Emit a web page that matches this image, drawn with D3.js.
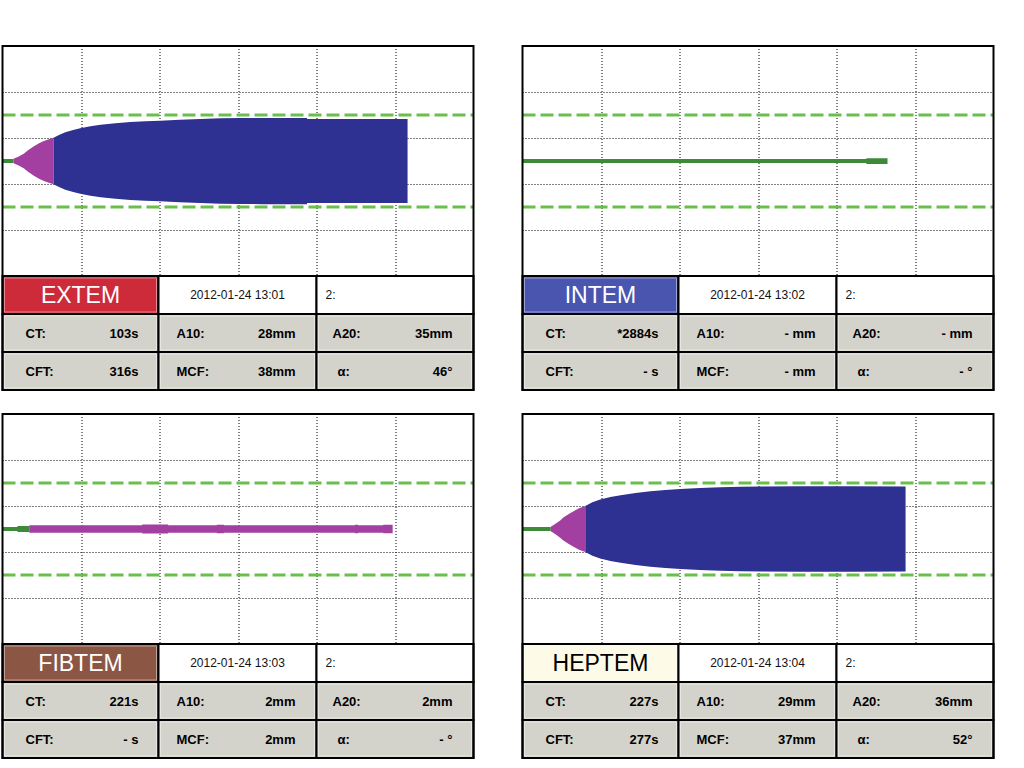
<!DOCTYPE html>
<html>
<head>
<meta charset="utf-8">
<script src="https://cdn.jsdelivr.net/npm/d3@7"></script>
<style>
  body { margin: 0; background: #fff; }
  svg { display: block; font-family: "Liberation Sans", Arial, sans-serif; }
</style>
</head>
<body>
<div id="chart"></div>
<script>
// test names + result table
var tests = ["EXTEM", "INTEM", "FIBTEM", "HEPTEM"];
var runDates = ["2012-01-24 13:01", "2012-01-24 13:02", "2012-01-24 13:03", "2012-01-24 13:04"];
var channels = ["2:", "2:", "2:", "2:"];
var ctVals = ["103s", "*2884s", "221s", "227s"];
var cftVals = ["316s", "- s", "- s", "277s"];
var a10Vals = ["28mm", "- mm", "2mm", "29mm"];
var a20Vals = ["35mm", "- mm", "2mm", "36mm"];
var mcfVals = ["38mm", "- mm", "2mm", "37mm"];
var alphaVals = ["46°", "- °", "- °", "52°"];

// grid (minutes, mm)
var timeGrid = [10, 20, 30, 40, 50];
var ampGrid = [-30, -10, 10, 30];
var refLines = [-20, 20];

// traces: [minutes, amplitude mm]
var extemTrace = [[0, 1.7], [1.4, 1.7], [1.4, 2], [2.0, 3.8], [2.7, 6.4], [3.3, 9.5], [4.0, 12.8], [4.6, 15.2],
  [5.2, 17.2], [5.9, 18.9], [6.5, 20.3], [7.2, 22.6], [8.0, 25], [9.0, 27], [9.9, 28.4], [11.2, 30.2],
  [12.5, 31.5], [14.4, 32.9], [16.3, 33.9], [18.2, 34.6], [20.1, 35.1], [22.6, 35.9], [25.2, 36.6],
  [27.8, 37.1], [30.3, 37.4], [33, 37.5], [35.4, 37.5], [38.8, 37.5], [38.8, 36.5], [45, 36.5], [51.6, 36.5]];
var intemTrace = [[0, 1.7], [43.8, 1.7], [43.8, 2.5], [46.5, 2.5]];
var fibtemTrace = [[0, 1.8], [1.9, 1.8], [1.9, 2.6], [3.4, 2.6], [3.4, 3.2], [17.8, 3.2], [17.8, 3.9], [21.1, 3.9],
  [21.1, 3.2], [27.3, 3.2], [27.3, 3.6], [28.2, 3.6], [28.2, 3.2], [44.9, 3.2], [44.9, 3.6], [45.3, 3.6],
  [45.3, 3.2], [48.5, 3.2], [48.5, 3.7], [49.7, 3.7]];
var heptemTrace = [[0, 1.7], [3.6, 1.7], [3.6, 2], [4.2, 4.5], [4.8, 7.5], [5.2, 10], [5.9, 13], [6.5, 15.5],
  [7.2, 18], [8.0, 20], [8.9, 23.2], [9.9, 25.6], [11.2, 27.8], [12.5, 29.4], [14.4, 31.4], [16.3, 32.8],
  [18.2, 33.9], [20.1, 34.7], [22.6, 35.6], [25.2, 36.2], [27.8, 36.7], [30.3, 37], [35.4, 37.2],
  [41.8, 37.2], [48.8, 37]];
var traces = [extemTrace, intemTrace, fibtemTrace, heptemTrace];

// phase starts: [clotting start, 20mm reached] in minutes
var phaseStarts = [[1.4, 6.5], [60, 60], [3.4, 60], [3.6, 8.0]];

// styles
var headerFill = ["#cd2a3a", "#4a55b0", "#8b5643", "#fdfbe7"];
var headerText = ["#fff", "#fff", "#fff", "#000"];
var phaseColors = ["#3d8a38", "#a43fa2", "#2e3192"];
var cellGray = "#d4d3cb";

var W = 1024, H = 768;
var panelW = 471, chartH = 230;
var panelPos = [[2.5, 46], [522.5, 46], [2.5, 414], [522.5, 414]];
var colEdges = [0, 156, 314, 471];
var rowEdges = [230, 268, 306, 344];

var svg = d3.select("#chart").append("svg")
  .attr("width", W)
  .attr("height", H);

svg.append("rect").attr("width", W).attr("height", H).attr("fill", "#fff");

var x = d3.scaleLinear().domain([0, 60]).range([0, panelW]);
var y = d3.scaleLinear().domain([-50, 50]).range([chartH, 0]);

var area = d3.area()
  .x(function(d) { return x(d[0]); })
  .y0(function(d) { return y(-d[1] / 2); })
  .y1(function(d) { return y(d[1] / 2); });

tests.forEach(function(name, i) {
  var g = svg.append("g")
    .attr("transform", "translate(" + panelPos[i][0] + "," + panelPos[i][1] + ")");

  // dotted grid
  g.selectAll(".vgrid")
    .data(timeGrid)
    .enter().append("line")
    .attr("x1", function(d) { return Math.round(x(d)) + 0.5; })
    .attr("x2", function(d) { return Math.round(x(d)) + 0.5; })
    .attr("y1", 0).attr("y2", chartH)
    .attr("stroke", "#000").attr("stroke-dasharray", "1,2");

  g.selectAll(".hgrid")
    .data(ampGrid)
    .enter().append("line")
    .attr("x1", 0).attr("x2", panelW)
    .attr("y1", function(d) { return Math.round(y(d)) + 0.5; })
    .attr("y2", function(d) { return Math.round(y(d)) + 0.5; })
    .attr("stroke", "#000").attr("stroke-dasharray", "1,2");

  // reference lines
  g.selectAll(".ref")
    .data(refLines)
    .enter().append("line")
    .attr("x1", 0).attr("x2", panelW)
    .attr("y1", function(d) { return y(d); })
    .attr("y2", function(d) { return y(d); })
    .attr("stroke", "#6abf4b").attr("stroke-width", 3)
    .attr("stroke-dasharray", "13,5");

  // trace, coloured by phase
  var bounds = [0, phaseStarts[i][0], phaseStarts[i][1], 60];
  for (var p = 0; p < 3; p++) {
    if (bounds[p + 1] <= bounds[p]) continue;
    var id = "clip" + i + "_" + p;
    g.append("clipPath").attr("id", id)
      .append("rect")
      .attr("x", x(bounds[p])).attr("y", 0)
      .attr("width", x(bounds[p + 1]) - x(bounds[p]))
      .attr("height", chartH);
    g.append("path")
      .datum(traces[i])
      .attr("clip-path", "url(#" + id + ")")
      .attr("d", area)
      .attr("fill", phaseColors[p]);
  }

  // table cells
  var cells = [];
  for (var r = 0; r < 3; r++) {
    for (var c = 0; c < 3; c++) {
      var fill = "#fff";
      if (r == 0 && c == 0) fill = headerFill[i];
      else if (r > 0) fill = cellGray;
      cells.push({ r: r, c: c, fill: fill });
    }
  }
  g.selectAll(".cell")
    .data(cells)
    .enter().append("rect")
    .attr("x", function(d) { return colEdges[d.c]; })
    .attr("y", function(d) { return rowEdges[d.r]; })
    .attr("width", function(d) { return colEdges[d.c + 1] - colEdges[d.c]; })
    .attr("height", function(d) { return rowEdges[d.r + 1] - rowEdges[d.r]; })
    .attr("fill", function(d) { return d.fill; })
    .attr("stroke", "#000")
    .attr("stroke-width", 2);

  // faint inner highlight on filled cells
  g.selectAll(".hl")
    .data(cells.filter(function(d) { return d.fill != "#fff"; }))
    .enter().append("rect")
    .attr("x", function(d) { return colEdges[d.c] + 2; })
    .attr("y", function(d) { return rowEdges[d.r] + 2; })
    .attr("width", function(d) { return colEdges[d.c + 1] - colEdges[d.c] - 4; })
    .attr("height", function(d) { return rowEdges[d.r + 1] - rowEdges[d.r] - 4; })
    .attr("fill", "none")
    .attr("stroke", "rgba(255,255,255,0.45)")
    .attr("stroke-width", 1);

  // outer border
  g.append("rect")
    .attr("width", panelW).attr("height", rowEdges[3])
    .attr("fill", "none").attr("stroke", "#000").attr("stroke-width", 2);

  // header texts
  g.append("text")
    .attr("x", (colEdges[0] + colEdges[1]) / 2).attr("y", 257)
    .attr("text-anchor", "middle")
    .attr("font-size", 23)
    .attr("fill", headerText[i])
    .text(name);

  g.append("text")
    .attr("x", (colEdges[1] + colEdges[2]) / 2).attr("y", 253)
    .attr("text-anchor", "middle")
    .attr("font-size", 12)
    .attr("fill", "#111")
    .text(runDates[i]);

  g.append("text")
    .attr("x", 323).attr("y", 253)
    .attr("font-size", 12)
    .attr("fill", "#111")
    .text(channels[i]);

  // result rows
  var rows = [
    [["CT:", 23, ctVals[i], 136], ["A10:", 174, a10Vals[i], 293], ["A20:", 330, a20Vals[i], 450]],
    [["CFT:", 23, cftVals[i], 136], ["MCF:", 174, mcfVals[i], 293], ["α:", 335, alphaVals[i], 450]]
  ];
  var baselines = [291.5, 330];
  rows.forEach(function(row, ri) {
    row.forEach(function(item) {
      g.append("text")
        .attr("x", item[1]).attr("y", baselines[ri])
        .attr("font-size", 13).attr("font-weight", "bold")
        .text(item[0]);
      g.append("text")
        .attr("x", item[3]).attr("y", baselines[ri])
        .attr("text-anchor", "end")
        .attr("font-size", 13).attr("font-weight", "bold")
        .text(item[2]);
    });
  });
});
</script>
</body>
</html>
